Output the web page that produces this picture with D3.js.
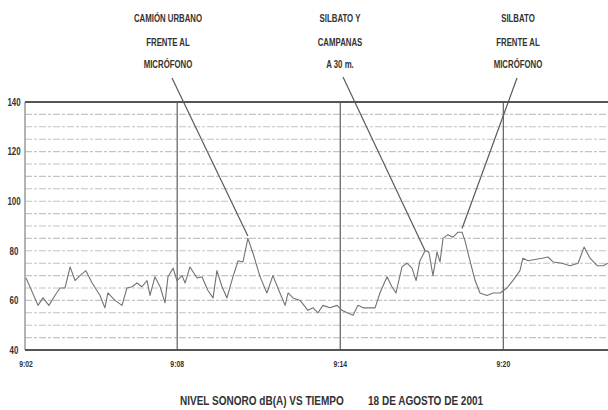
<!DOCTYPE html>
<html><head><meta charset="utf-8">
<script src="https://cdn.jsdelivr.net/npm/d3@7"></script>
<style>
html,body{margin:0;padding:0;background:#fff;}
svg{display:block;}
text{font-family:'Liberation Sans','DejaVu Sans',sans-serif;font-weight:bold;fill:#333;}
</style></head>
<body><svg id="chart" width="608" height="410"></svg>
<script>
// ---- data ----
const times = [2.44,2.88,3.06,3.28,3.50,3.69,3.87,4.06,4.24,4.42,4.64,4.87,5.16,5.34,5.45,5.71,5.97,6.15,6.34,6.52,6.70,6.89,7.00,7.18,7.37,7.55,7.66,7.85,7.99,8.18,8.29,8.47,8.73,8.91,9.13,9.32,9.46,9.65,9.83,10.05,10.24,10.42,10.60,10.79,11.05,11.30,11.52,11.78,11.97,12.08,12.26,12.52,12.81,13.00,13.18,13.36,13.62,13.88,14.06,14.25,14.47,14.65,14.84,15.09,15.28,15.46,15.72,15.90,16.05,16.27,16.45,16.64,16.79,16.93,17.12,17.26,17.41,17.56,17.67,17.78,17.96,18.15,18.33,18.48,18.59,18.77,18.96,19.14,19.40,19.62,19.88,20.13,20.35,20.61,20.72,20.91,21.16,21.42,21.64,21.83,22.16,22.45,22.75,22.97,23.19,23.45,23.67,23.85];
const levels = [69,58,61,58,62,65,65,73.5,68,70,72,67,62,57,63,60,58,65,65.5,67,65.5,68,62,69.5,65.5,59,69.5,73,68,70,67,73.5,69,69.5,64,61,72,65.5,61,69.5,76,75.5,85,79,69.5,63,70,63,58,63,61,60,56,57,55,58,57,58,56,55,54,58,57,57,57,63,69.5,65.5,63,73.5,75,73,68,76,80,79.5,70,79.5,75.5,85,86.5,85.5,87.5,87.5,84,76,68,63,62,63,63,65,68,72,77,76,76.5,77,77.5,75.5,75,74,75,81.5,77,74,74,75];
const yTicks = [40,60,80,100,120,140];
const yGrid = [45,50,55,60,65,70,75,80,85,90,95,100,105,110,115,120,125,130,135];
const xTickValues = [2.4,8,14,20];
const xTickLabels = ["9:02","9:08","9:14","9:20"];
const annotationTexts = [
  ["CAMIÓN URBANO","FRENTE AL","MICRÓFONO"],
  ["SILBATO Y","CAMPANAS","A 30 m."],
  ["SILBATO","FRENTE AL","MICRÓFONO"]
];
const annotationTime = [10.60,17.12,18.48];
const annotationLevel = [86,80,89];
const titleLeft = "NIVEL SONORO dB(A) VS TIEMPO";
const titleRight = "18 DE AGOSTO DE 2001";

// ---- layout ----
const svg = d3.select("#chart");
const L = 25, R = 608, T = 102, B = 350;
const x = d3.scaleLinear().domain([2.4, 23.85]).range([L, R]);
const y = d3.scaleLinear().domain([40, 140]).range([B, T]);

// condensed text helper (horizontal compression)
function ctext(parent, px, py, str, size, anchor, sx) {
  return parent.append("text")
    .attr("transform", `translate(${px},${py}) scale(${sx},1)`)
    .attr("dy", "0.35em").attr("text-anchor", anchor)
    .attr("font-size", size).text(str);
}

// horizontal grid
svg.append("g").selectAll("line").data(yGrid).join("line")
  .attr("x1", L).attr("x2", R)
  .attr("y1", d => y(d)).attr("y2", d => y(d))
  .attr("stroke", "#c4c4c4").attr("stroke-width", 1.1)
  .attr("stroke-dasharray", "7,2,3,2");

// vertical grid
svg.append("g").selectAll("line").data(xTickValues.slice(1)).join("line")
  .attr("x1", d => x(d)).attr("x2", d => x(d))
  .attr("y1", T).attr("y2", B)
  .attr("stroke", "#6a6a6a").attr("stroke-width", 1.3);

// left axis line
svg.append("line").attr("x1", L).attr("x2", L).attr("y1", T).attr("y2", B)
  .attr("stroke", "#9a9a9a").attr("stroke-width", 1.5);
// top & bottom borders
svg.append("line").attr("x1", L).attr("x2", R).attr("y1", y(140)).attr("y2", y(140))
  .attr("stroke", "#555").attr("stroke-width", 2);
svg.append("line").attr("x1", L).attr("x2", R).attr("y1", y(40)).attr("y2", y(40))
  .attr("stroke", "#555").attr("stroke-width", 2);

// y labels
const gy = svg.append("g");
yTicks.forEach(d => ctext(gy, 14, y(d), d, 11, "middle", 0.72));

// x labels
const gx = svg.append("g");
xTickValues.forEach((d, i) => ctext(gx, i === 0 ? x(d) + 1 : x(d), 364, xTickLabels[i], 9.5, "middle", 0.72));

// data line
const pts = times.map((t, i) => [t, levels[i]]);
svg.append("path").datum(pts)
  .attr("fill", "none").attr("stroke", "#737373").attr("stroke-width", 1.1)
  .attr("stroke-linejoin", "round")
  .attr("d", d3.line().x(d => x(d[0])).y(d => y(d[1])));

// annotations
const annX = [168, 340, 518];
const leadStart = [[172, 78], [343, 77], [517, 78]];
const lineY = [18, 42, 64];
const ga = svg.append("g");
annotationTexts.forEach((lines, i) => {
  ga.append("line")
    .attr("x1", leadStart[i][0]).attr("y1", leadStart[i][1])
    .attr("x2", x(annotationTime[i])).attr("y2", y(annotationLevel[i]))
    .attr("stroke", "#5a5a5a").attr("stroke-width", 1.2);
  lines.forEach((s, j) => ctext(ga, annX[i], lineY[j], s, 11.5, "middle", 0.68));
});

// title
ctext(svg, 180, 400, titleLeft, 13, "start", 0.77);
ctext(svg, 368, 400, titleRight, 13, "start", 0.77);
</script></body></html>
